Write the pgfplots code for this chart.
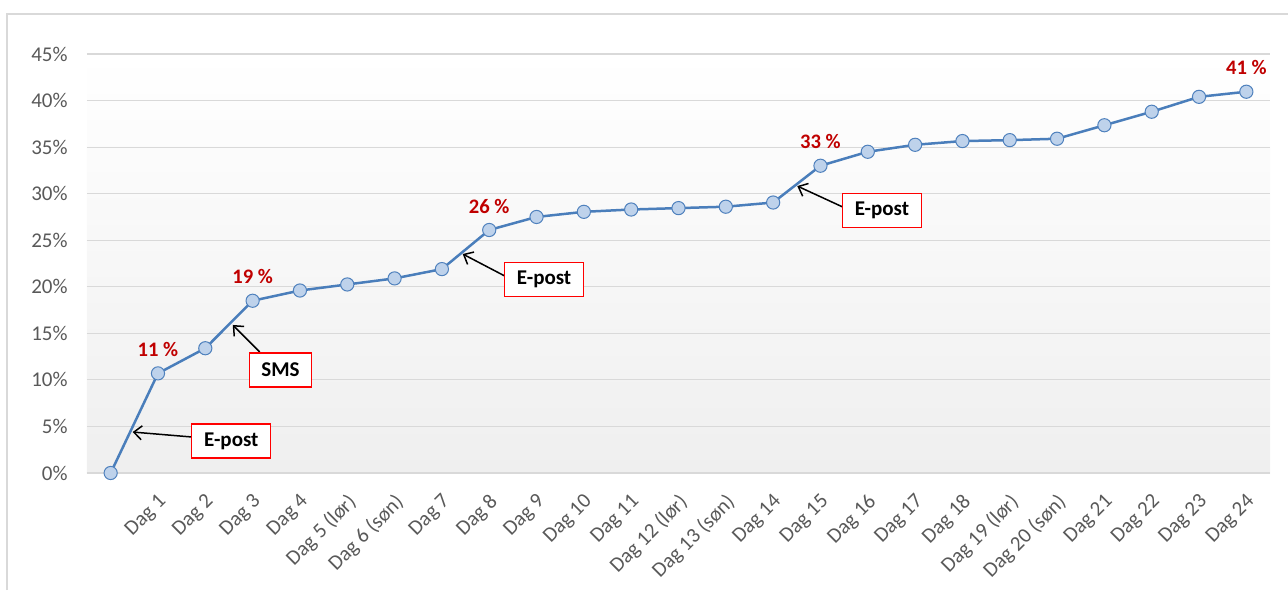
\documentclass[border=0pt]{standalone}
\usepackage{pgfplots}
\pgfplotsset{compat=1.18}
\usepackage{fontspec}
\setmainfont{Carlito}
\usetikzlibrary{arrows.meta}
\definecolor{lineblue}{RGB}{74,126,187}
\definecolor{markedge}{RGB}{79,129,189}
\definecolor{markfill}{RGB}{190,210,235}
\definecolor{labred}{RGB}{192,0,0}
\definecolor{tickgray}{RGB}{89,89,89}
\definecolor{gridgray}{RGB}{217,217,217}
\definecolor{bggray}{RGB}{239,239,239}
\definecolor{framegray}{RGB}{217,217,217}

\pgfplotstableread{
x y
0 0
1 10.7
2 13.4
3 18.5
4 19.6
5 20.25
6 20.9
7 21.9
8 26.1
9 27.5
10 28.05
11 28.3
12 28.45
13 28.6
14 29.05
15 33.0
16 34.5
17 35.25
18 35.65
19 35.75
20 35.9
21 37.35
22 38.8
23 40.4
24 40.95
}\datatable

\pgfplotstableread{
x y label
1 10.7 {11 \%}
3 18.5 {19 \%}
8 26.1 {26 \%}
15 33.0 {33 \%}
24 40.95 {41 \%}
}\labeltable

\begin{document}
\begin{tikzpicture}[font=\fontsize{10.5}{12}\selectfont]
\useasboundingbox (-43.5pt,-58.5pt) rectangle (600.5pt,236.5pt);
\draw[framegray, line width=0.6pt] (-40pt,-58.5pt) -- (-40pt,229.5pt) -- (600.5pt,229.5pt);
\begin{axis}[
  at={(0,0)}, anchor=south west,
  scale only axis,
  width=591.5pt, height=209.5pt,
  xmin=-0.5, xmax=24.5,
  ymin=0, ymax=45,
  clip=false,
  axis background/.style={top color=white, bottom color=bggray},
  axis line style={draw=none},
  tick style={draw=none},
  ymajorgrids,
  major grid style={draw=gridgray, line width=0.6pt},
  ytick={0,5,10,15,20,25,30,35,40,45},
  yticklabels={0\%,5\%,10\%,15\%,20\%,25\%,30\%,35\%,40\%,45\%},
  yticklabel style={inner sep=0pt, xshift=-9.5pt, text=tickgray},
  xtick={0,1,...,24},
  xticklabels={,Dag 1,Dag 2,Dag 3,Dag 4,Dag 5 (lør),Dag 6 (søn),Dag 7,Dag 8,Dag 9,Dag 10,Dag 11,Dag 12 (lør),Dag 13 (søn),Dag 14,Dag 15,Dag 16,Dag 17,Dag 18,Dag 19 (lør),Dag 20 (søn),Dag 21,Dag 22,Dag 23,Dag 24},
  xticklabel style={xshift=-0.5pt, yshift=-9.5pt, rotate=45, anchor=north east, inner sep=0pt, text=tickgray},
]
\addplot[color=lineblue, line width=1.25pt, mark=*, mark size=3.3pt,
  mark options={draw=markedge, fill=markfill, line width=0.5pt}]
  table[x=x, y=y] {\datatable};
\addplot[draw=none, mark=none, nodes near coords, point meta=explicit symbolic,
  nodes near coords style={anchor=center, yshift=12pt, text=labred, font=\fontsize{10.3}{12}\selectfont\bfseries}]
  table[x=x, y=y, meta=label] {\labeltable};

\tikzset{box/.style={draw=red, line width=0.6pt, fill=white, minimum width=39.5pt, minimum height=17pt, inner sep=0pt, font=\fontsize{10.5}{12}\selectfont\bfseries},
  arr/.style={-{Straight Barb[length=4pt,width=7pt]}, line width=0.75pt, black}}
\draw[arr] (axis cs:1.71,3.87) -- (axis cs:0.465,4.4);
\node[box] at (axis cs:2.55,3.44) {E-post};
\draw[arr] (axis cs:3.15,13.0) -- (axis cs:2.58,15.9);
\node[box, minimum width=31pt] at (axis cs:3.59,11.06) {SMS};
\draw[arr] (axis cs:8.37,21.05) -- (axis cs:7.44,23.52);
\node[box] at (axis cs:9.16,20.78) {E-post};
\draw[arr] (axis cs:15.47,28.57) -- (axis cs:14.51,30.82);
\node[box] at (axis cs:16.3,28.19) {E-post};
\end{axis}
\end{tikzpicture}
\end{document}
